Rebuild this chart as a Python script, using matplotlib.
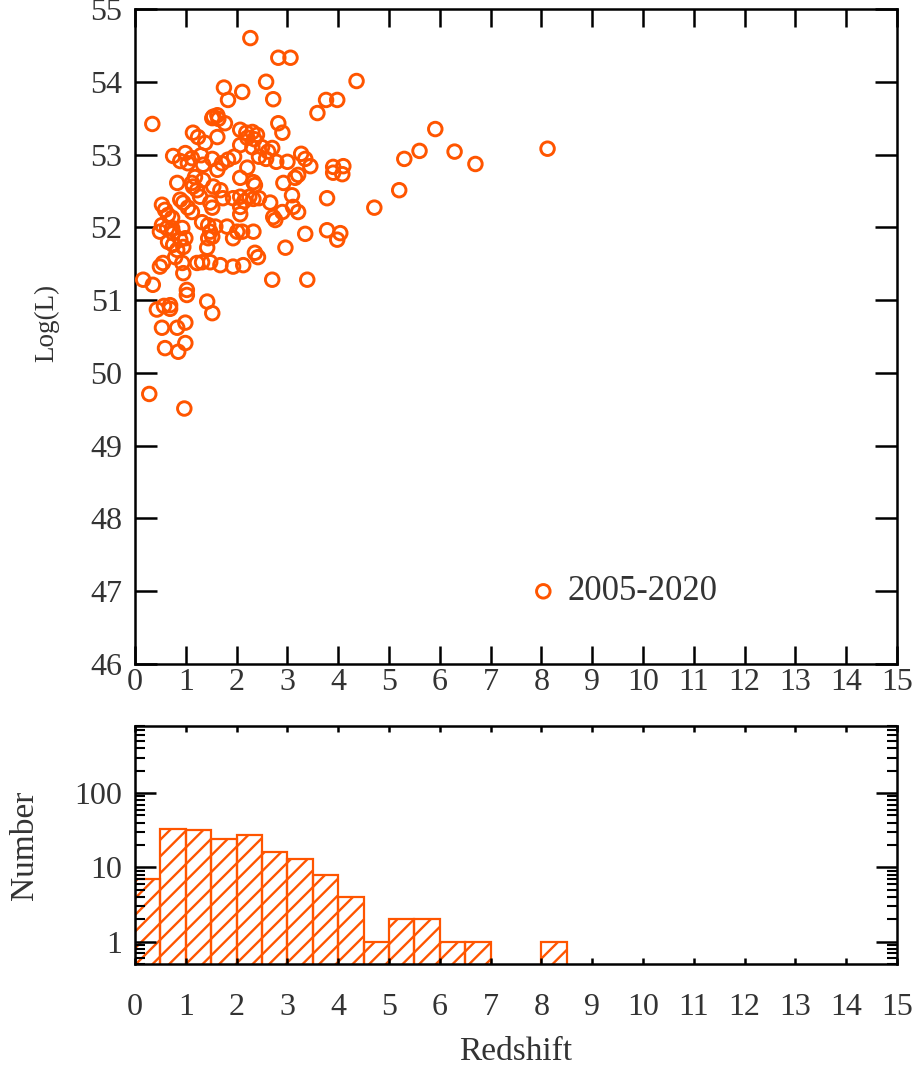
import numpy as np
import matplotlib
matplotlib.use("Agg")
import matplotlib.pyplot as plt
from matplotlib.ticker import FixedLocator, LogLocator, NullFormatter

plt.rcParams['font.family'] = ['Liberation Serif', 'DejaVu Serif']

# GRB sample 2005-2020: redshift vs log luminosity
z = [2.27, 2.82, 3.06, 4.36, 2.58, 1.75, 2.11, 1.83, 2.72, 3.76, 3.98, 3.59,
     0.34, 2.82, 1.54, 1.62, 1.64, 1.52, 1.77, 2.90,
     1.14, 1.24, 1.38, 1.62, 2.07, 2.19, 2.31, 2.40, 2.21, 2.35, 2.07, 2.31,
     2.50, 2.70, 2.62, 3.90, 4.10, 3.90, 4.08, 0.75, 0.99, 0.89, 1.04, 1.12,
     1.30, 1.34, 1.52, 1.62, 1.71, 1.83, 1.95, 2.21, 3.27, 3.35, 3.45, 3.21,
     3.15, 2.44, 2.58, 2.78, 3.00,
     2.07, 2.33, 0.83, 1.18, 1.12, 1.14, 1.22, 1.34, 1.54, 1.68, 1.73, 1.28,
     0.89, 0.95, 1.04, 1.12, 1.48, 1.52, 1.93, 2.07, 2.15, 2.25, 2.33, 2.44,
     2.07, 2.07, 0.53, 0.59, 0.65, 0.73, 2.36, 2.92, 2.66, 2.90, 3.09, 3.11,
     3.21, 2.72, 2.76, 3.78, 5.20, 4.71,
     0.53, 0.63, 0.73, 0.49, 0.75, 0.93, 0.65, 0.75, 0.89, 0.99, 0.95, 0.83,
     1.32, 1.44, 1.48, 1.52, 1.58, 1.44, 1.81, 1.42, 1.93, 2.01, 0.79, 0.93,
     0.95, 0.49, 0.55, 1.22, 1.32, 1.48, 1.68, 1.93, 2.13, 2.33, 2.36, 2.42,
     0.16, 0.35, 1.02, 2.11, 3.35, 3.78, 4.04, 3.98, 2.96, 2.70, 3.39,
     0.43, 0.57, 0.69, 0.69, 1.42, 1.52, 1.02, 0.53, 0.83, 0.99, 0.59, 0.85,
     0.99, 0.28, 0.97,
     5.91, 5.60, 5.30, 6.29, 6.70, 8.12]
logL = [54.60, 54.33, 54.33, 54.01, 54.00, 53.92, 53.86, 53.75, 53.76, 53.75,
        53.75, 53.57, 53.42, 53.43, 53.52, 53.54, 53.49, 53.50, 53.43, 53.30,
        53.30, 53.24, 53.16, 53.24, 53.34, 53.30, 53.31, 53.27, 53.23, 53.21,
        53.13, 53.10, 53.10, 53.09, 53.04, 52.83, 52.84, 52.75, 52.73, 52.98,
        53.02, 52.91, 52.88, 52.95, 52.99, 52.86, 52.94, 52.79, 52.88, 52.93,
        52.97, 52.82, 53.01, 52.94, 52.84, 52.72, 52.68, 52.97, 52.94, 52.90,
        52.90,
        52.68, 52.62, 52.61, 52.69, 52.61, 52.56, 52.51, 52.65, 52.56, 52.51,
        52.40, 52.42, 52.38, 52.34, 52.27, 52.21, 52.34, 52.27, 52.40, 52.42,
        52.36, 52.42, 52.39, 52.40, 52.28, 52.18, 52.31, 52.24, 52.17, 52.13,
        52.58, 52.61, 52.34, 52.21, 52.44, 52.28, 52.21, 52.14, 52.10, 52.40,
        52.51, 52.27,
        52.03, 51.99, 51.99, 51.94, 51.92, 51.99, 51.80, 51.76, 51.83, 51.85,
        51.73, 51.69, 52.07, 52.03, 51.94, 51.87, 52.01, 51.85, 52.01, 51.72,
        51.85, 51.94, 51.59, 51.51, 51.37, 51.46, 51.51, 51.51, 51.52, 51.52,
        51.48, 51.46, 51.48, 51.94, 51.65, 51.59, 51.28, 51.21, 51.14, 51.94,
        51.91, 51.96, 51.92, 51.83, 51.72, 51.28, 51.28,
        50.87, 50.92, 50.93, 50.88, 50.98, 50.82, 51.07, 50.62, 50.62, 50.69,
        50.34, 50.29, 50.41, 49.71, 49.51,
        53.35, 53.05, 52.94, 53.04, 52.87, 53.08]

# redshift histogram, bins of 0.5 starting at z = 0
bin_left = np.arange(0, 8.5, 0.5)
counts = [7, 33, 32, 24, 27, 16, 13, 8, 4, 1, 2, 2, 1, 1, 0, 0, 1]

xticks = list(range(0, 16))
color = '#ff5500'
txt = '#333333'

fig = plt.figure(figsize=(9.18, 10.68), dpi=100)
ax1 = fig.add_axes([0.1471, 0.3783, 0.8301, 0.6133])
ax2 = fig.add_axes([0.1471, 0.0974, 0.8301, 0.2228])

for ax in (ax1, ax2):
    for sp in ax.spines.values():
        sp.set_linewidth(1.8)
    ax.set_xlim(0, 15)
    ax.xaxis.set_major_locator(FixedLocator(xticks))
    ax.tick_params(axis='both', which='both', direction='in', top=True,
                   right=True, labelsize=23, width=1.8, color='black',
                   labelcolor=txt)

# --- scatter ---
ax1.scatter(z, logL, s=95, facecolors='none', edgecolors=color,
            linewidths=2.1, label='2005-2020', zorder=3)
ax1.set_ylim(46, 55)
ax1.yaxis.set_major_locator(FixedLocator(range(46, 56)))
ax1.tick_params(axis='x', length=13, pad=3)
ax1.tick_params(axis='y', length=16, pad=9)
ax1.set_ylabel('Log(L)', fontsize=19.5, color=txt)
ax1.yaxis.set_label_coords(-0.100, 0.52)
ax1.legend(loc='center left', bbox_to_anchor=(0.513, 0.110), frameon=False,
           fontsize=25, handlelength=1.0, handletextpad=0.2, borderpad=0,
           borderaxespad=0, scatterpoints=1, labelcolor=txt)

# --- histogram ---
plt.rcParams['hatch.linewidth'] = 1.7
ax2.set_yscale('log')
ax2.bar(bin_left, counts, width=0.5, align='edge', fill=False,
        hatch='//', edgecolor=color, linewidth=1.6)
ax2.set_ylim(0.5, 800)
ax2.set_yticks([1, 10, 100])
ax2.set_yticklabels(['1', '10', '100'])
ax2.yaxis.set_minor_locator(LogLocator(base=10, subs=np.arange(2, 10)))
ax2.yaxis.set_minor_formatter(NullFormatter())
ax2.tick_params(axis='x', length=4.5, pad=21)
ax2.tick_params(axis='y', which='major', length=15, pad=9)
ax2.tick_params(axis='y', which='minor', length=7.5, width=1.5)
ax2.set_ylabel('Number', fontsize=24, color=txt)
ax2.yaxis.set_label_coords(-0.125, 0.5)
ax2.set_xlabel('Redshift', fontsize=24, color=txt, labelpad=10)

fig.savefig('out.png', dpi=100)
